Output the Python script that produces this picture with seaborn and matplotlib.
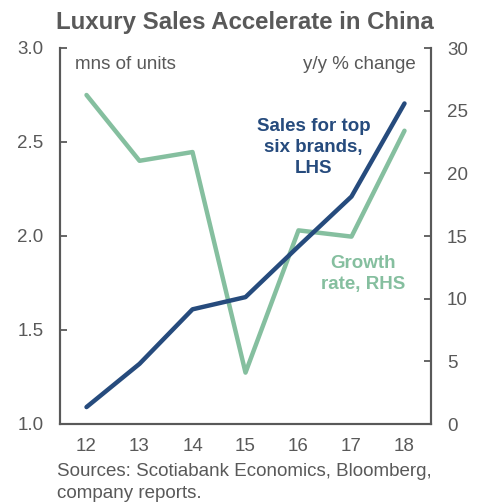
import numpy as np
import pandas as pd
import matplotlib
matplotlib.use("Agg")
import matplotlib.pyplot as plt
from matplotlib.ticker import FixedLocator, NullFormatter
import seaborn as sns

years = ["12", "13", "14", "15", "16", "17", "18"]
sales_mns = [1.09, 1.32, 1.61, 1.675, 1.945, 2.21, 2.705]
growth_pct = [26.25, 21.0, 21.7, 4.1, 15.45, 14.95, 23.4]

left_ticks = [1.0, 1.5, 2.0, 2.5, 3.0]
right_ticks = [0, 5, 10, 15, 20, 25, 30]

sns.set_theme(style="white")
plt.rcParams["font.family"] = ["Liberation Sans", "DejaVu Sans"]

GRAY = "#595959"
BLUE = "#264b7d"
GREEN = "#85bf9f"
FS = 13.5

df = pd.DataFrame({"pos": np.arange(len(years)), "year": years,
                   "sales": sales_mns, "growth": growth_pct})

fig = plt.figure(figsize=(4.83, 5.03), dpi=100)
ax = fig.add_axes([60 / 483, 1 - 424 / 503, (431 - 60) / 483, (424 - 48) / 503])
ax2 = ax.twinx()

sns.lineplot(data=df, x="pos", y="growth", ax=ax2, color=GREEN, lw=3.2,
             solid_capstyle="round", legend=False)
sns.lineplot(data=df, x="pos", y="sales", ax=ax, color=BLUE, lw=3.2,
             solid_capstyle="round", legend=False)

# draw the left-axis series above the twin axis
ax.set_zorder(ax2.get_zorder() + 1)
ax.patch.set_visible(False)

ax.set_xlim(-0.5, len(years) - 0.5)
ax.set_ylim(1.0, 3.0)
ax2.set_ylim(0, 30)

ax.set_xticks(df["pos"])
ax.set_xticklabels(years)
ax.xaxis.set_minor_locator(FixedLocator(np.arange(-0.5, len(years), 1.0)))
ax.xaxis.set_minor_formatter(NullFormatter())
ax.tick_params(axis="x", which="major", length=0, pad=10, labelsize=FS, labelcolor=GRAY)
ax.tick_params(axis="x", which="minor", length=5, width=1.3, color=GRAY, direction="out")

ax.set_yticks(left_ticks)
ax.set_yticklabels([f"{v:.1f}" for v in left_ticks])
ax.tick_params(axis="y", length=5, width=1.3, color=GRAY, direction="in",
               labelsize=FS, labelcolor=GRAY, pad=12)
ax2.set_yticks(right_ticks)
ax2.tick_params(axis="y", length=5, width=1.3, color=GRAY, direction="in",
                labelsize=FS, labelcolor=GRAY, pad=11.5)

ax.set_xlabel("")
ax.set_ylabel("")
ax2.set_xlabel("")
ax2.set_ylabel("")

for a in (ax, ax2):
    a.spines["top"].set_visible(False)
    for side in ("left", "right", "bottom"):
        a.spines[side].set_color(GRAY)
        a.spines[side].set_linewidth(1.5)

ax.text(0.04, 0.955, "mns of units", transform=ax.transAxes, ha="left", va="center",
        fontsize=FS, color=GRAY)
ax.text(0.96, 0.955, "y/y % change", transform=ax.transAxes, ha="right", va="center",
        fontsize=FS, color=GRAY)

ax.text(4.28, 2.47, "Sales for top\nsix brands,\nLHS", ha="center", va="center",
        fontsize=13.5, fontweight="bold", color=BLUE, linespacing=1.3)
ax2.text(5.22, 12.0, "Growth\nrate, RHS", ha="center", va="center",
         fontsize=13.5, fontweight="bold", color=GREEN, linespacing=1.3)

fig.text(245 / 483, 1 - 23 / 503, "Luxury Sales Accelerate in China", ha="center",
         va="center", fontsize=17.3, fontweight="bold", color=GRAY)
fig.text(57 / 483, 1 - 472 / 503, "Sources: Scotiabank Economics, Bloomberg,",
         ha="left", va="center", fontsize=FS, color=GRAY)
fig.text(57 / 483, 1 - 493 / 503, "company reports.",
         ha="left", va="center", fontsize=FS, color=GRAY)

fig.savefig("out.png", dpi=100)
